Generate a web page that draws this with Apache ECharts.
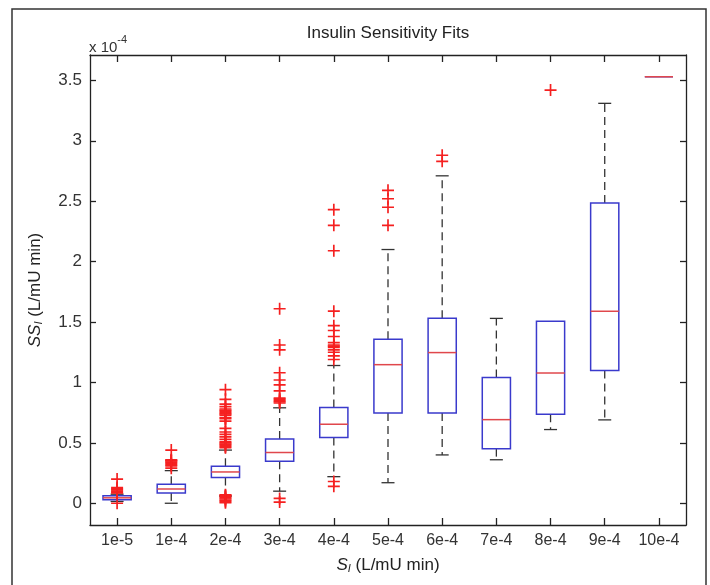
<!DOCTYPE html>
<html>
<head>
<meta charset="utf-8">
<title>Insulin Sensitivity Fits</title>
<script src="https://cdn.jsdelivr.net/npm/echarts@6/dist/echarts.min.js"></script>
<style>
	html, body { margin: 0; padding: 0; background: #fff; }
	#main { width: 710px; height: 585px; }
</style>
</head>
<body>
<div id="main"></div>
<script>
// values are in units of 1e-4 (L/mU min)
const categories = ['1e-5', '1e-4', '2e-4', '3e-4', '4e-4', '5e-4', '6e-4', '7e-4', '8e-4', '9e-4', '10e-4'];
const whiskerLow = [0.015, 0.0, 0.06, 0.10, 0.22, 0.17, 0.40, 0.36, 0.61, 0.69, 3.53];
const q1 = [0.028, 0.085, 0.213, 0.347, 0.544, 0.747, 0.747, 0.452, 0.736, 1.098, 3.53];
const median = [0.045, 0.118, 0.259, 0.42, 0.654, 1.147, 1.247, 0.692, 1.078, 1.589, 3.53];
const q3 = [0.062, 0.157, 0.306, 0.532, 0.792, 1.357, 1.531, 1.04, 1.506, 2.485, 3.53];
const whiskerHigh = [0.075, 0.27, 0.44, 0.79, 1.14, 2.10, 2.71, 1.53, 1.506, 3.31, 3.53];
const outlierValues = [
	[0.20, 0.13, 0.12, 0.11, 0.10, 0.09, 0.085, 0.0],
	[0.44, 0.36, 0.355, 0.35, 0.34, 0.33, 0.32, 0.31, 0.29],
	[0.94, 0.86, 0.82, 0.80, 0.78, 0.77, 0.76, 0.75, 0.74, 0.73, 0.71, 0.70, 0.68, 0.62, 0.59, 0.57, 0.55, 0.53, 0.51, 0.50, 0.49, 0.48, 0.47, 0.46,
		0.07, 0.065, 0.055, 0.045, 0.035, 0.025, 0.015, 0.005],
	[1.61, 1.31, 1.27, 1.08, 1.02, 0.98, 0.93, 0.87, 0.86, 0.85, 0.84, 0.83, 0.04, 0.01],
	[2.43, 2.30, 2.09, 1.59, 1.47, 1.43, 1.38, 1.33, 1.31, 1.30, 1.29, 1.27, 1.25, 1.22, 1.19, 0.18, 0.14],
	[2.59, 2.52, 2.45, 2.30],
	[2.88, 2.83],
	[],
	[3.42],
	[],
	[]
];
const yTicks = [0, 0.5, 1, 1.5, 2, 2.5, 3, 3.5];

const boxData = categories.map((c, i) => [i, whiskerLow[i], q1[i], median[i], q3[i], whiskerHigh[i]]);
const outlierData = [];
outlierValues.forEach((vals, i) => {
	vals.forEach(v => outlierData.push([i, v]));
});

const FONT = 'Liberation Sans, Arial, sans-serif';
const plusSymbol = 'path://M4.3,0H5.7V10H4.3Z M0,4.3H10V5.7H0Z';

function renderBox(params, api) {
	const i = api.value(0);
	const lo = api.coord([i, api.value(1)]);
	const b1 = api.coord([i, api.value(2)]);
	const md = api.coord([i, api.value(3)]);
	const b3 = api.coord([i, api.value(4)]);
	const hi = api.coord([i, api.value(5)]);
	const band = api.size([1, 0])[0];
	const half = band * 0.26;
	const cap = band * 0.12;
	const x = md[0];
	const children = [];
	const whiskerStyle = { stroke: '#333', lineWidth: 1.3, lineDash: [8, 5] };
	const capStyle = { stroke: '#333', lineWidth: 1.3 };
	if (api.value(5) > api.value(4)) {
		children.push({ type: 'line', shape: { x1: x, y1: b3[1], x2: x, y2: hi[1] }, style: whiskerStyle });
		children.push({ type: 'line', shape: { x1: x - cap, y1: hi[1], x2: x + cap, y2: hi[1] }, style: capStyle });
	}
	if (api.value(1) < api.value(2)) {
		children.push({ type: 'line', shape: { x1: x, y1: b1[1], x2: x, y2: lo[1] }, style: whiskerStyle });
		children.push({ type: 'line', shape: { x1: x - cap, y1: lo[1], x2: x + cap, y2: lo[1] }, style: capStyle });
	}
	children.push({
		type: 'rect',
		shape: { x: x - half, y: b3[1], width: half * 2, height: b1[1] - b3[1] },
		style: { fill: 'none', stroke: '#3a3acc', lineWidth: 1.5 }
	});
	children.push({
		type: 'line',
		shape: { x1: x - half, y1: md[1], x2: x + half, y2: md[1] },
		style: { stroke: '#e0474c', lineWidth: 1.5 }
	});
	return { type: 'group', children: children };
}

const chart = echarts.init(document.getElementById('main'), null, { renderer: 'canvas' });

const axisLineStyle = { color: '#222', width: 1.3 };

const option = {
	backgroundColor: '#fff',
	animation: false,
	textStyle: { fontFamily: FONT },
	grid: { left: 90, right: 24, top: 55, bottom: 60 },
	graphic: [
		{
			type: 'rect',
			shape: { x: 12, y: 9, width: 694, height: 600 },
			style: { fill: 'none', stroke: '#333', lineWidth: 1.5 },
			silent: true
		},
		{
			type: 'text',
			x: 388,
			y: 33,
			style: {
				text: 'Insulin Sensitivity Fits',
				fill: '#222',
				font: '17px ' + FONT,
				align: 'center',
				verticalAlign: 'middle'
			}
		},
		{
			type: 'text',
			x: 89,
			y: 34,
			style: {
				text: '{a|x 10}{b|-4}',
				fill: '#333',
				rich: {
					a: { fontSize: 15, fontFamily: FONT, fill: '#333', verticalAlign: 'bottom' },
					b: { fontSize: 11, fontFamily: FONT, fill: '#333', verticalAlign: 'top', padding: [0, 0, 10, 0] }
				}
			}
		}
	],
	xAxis: [
		{
			type: 'category',
			data: categories,
			position: 'bottom',
			name: '{i|S}{s|I} (L/mU min)',
			nameLocation: 'middle',
			nameGap: 32,
			nameTextStyle: {
				fontSize: 17,
				color: '#222',
				rich: {
					i: { fontSize: 17, fontStyle: 'italic', fontFamily: FONT, color: '#222' },
					s: { fontSize: 11, fontStyle: 'italic', fontFamily: FONT, color: '#222', verticalAlign: 'bottom', padding: [6, 0, 0, 0] }
				}
			},
			axisLine: { onZero: false, lineStyle: axisLineStyle },
			axisTick: { show: true, inside: true, alignWithLabel: true, interval: 0, length: 7, lineStyle: axisLineStyle },
			axisLabel: { fontSize: 16, color: '#333', margin: 8, interval: 0, hideOverlap: false },
			splitLine: { show: false }
		},
		{
			type: 'category',
			data: categories,
			position: 'top',
			axisLine: { onZero: false, lineStyle: axisLineStyle },
			axisTick: { show: true, inside: true, alignWithLabel: true, interval: 0, length: 7, lineStyle: axisLineStyle },
			axisLabel: { show: false },
			splitLine: { show: false }
		}
	],
	yAxis: [
		{
			type: 'value',
			position: 'left',
			min: -0.18,
			max: 3.71,
			name: '{i|SS}{s|I} (L/mU min)',
			nameLocation: 'middle',
			nameGap: 46,
			nameTextStyle: {
				fontSize: 17,
				color: '#222',
				rich: {
					i: { fontSize: 17, fontStyle: 'italic', fontFamily: FONT, color: '#222' },
					s: { fontSize: 11, fontStyle: 'italic', fontFamily: FONT, color: '#222', verticalAlign: 'bottom', padding: [6, 0, 0, 0] }
				}
			},
			axisLine: { show: true, onZero: false, lineStyle: axisLineStyle },
			axisTick: { show: true, inside: true, length: 6, lineStyle: axisLineStyle, customValues: yTicks },
			axisLabel: { fontSize: 17, color: '#333', margin: 8, customValues: yTicks },
			splitLine: { show: false }
		},
		{
			type: 'value',
			position: 'right',
			min: -0.18,
			max: 3.71,
			axisLine: { show: true, onZero: false, lineStyle: axisLineStyle },
			axisTick: { show: true, inside: true, length: 6, lineStyle: axisLineStyle, customValues: yTicks },
			axisLabel: { show: false },
			splitLine: { show: false }
		}
	],
	series: [
		{
			name: 'box',
			type: 'custom',
			renderItem: renderBox,
			data: boxData,
			encode: { x: 0, y: [1, 2, 3, 4, 5] },
			z: 2
		},
		{
			name: 'outliers',
			type: 'scatter',
			data: outlierData,
			symbol: plusSymbol,
			symbolSize: 12,
			itemStyle: { color: '#f52020', opacity: 1 },
			z: 3
		}
	]
};

chart.setOption(option);
</script>
</body>
</html>
